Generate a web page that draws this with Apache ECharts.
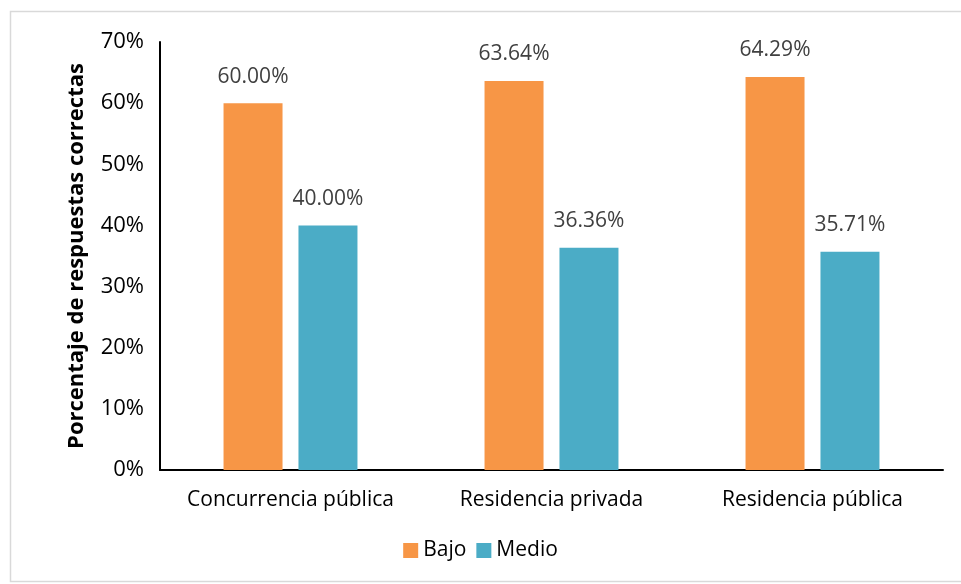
<!DOCTYPE html>
<html>
<head>
<meta charset="utf-8">
<script src="https://cdn.jsdelivr.net/npm/echarts@6/dist/echarts.min.js"></script>
<style>
  html, body { margin: 0; padding: 0; background: #fff; }
  #chart { width: 961px; height: 584px; }
</style>
</head>
<body>
<div id="chart"></div>
<script>
// Tipos de edificación
const categories = ['Concurrencia pública', 'Residencia privada', 'Residencia pública'];
// Porcentaje de respuestas correctas por nivel
const bajo = [60.00, 63.64, 64.29];
const medio = [40.00, 36.36, 35.71];
const yTicks = [0, 10, 20, 30, 40, 50, 60, 70];

const FONT = '"Open Sans", "DejaVu Sans", sans-serif';

const chart = echarts.init(document.getElementById('chart'), null, { renderer: 'canvas' });

const labelCfg = {
  show: true,
  position: 'top',
  distance: 16,
  color: '#404040',
  fontFamily: FONT,
  fontSize: 21,
  formatter: p => p.value.toFixed(2) + '%'
};

chart.setOption({
  animation: false,
  backgroundColor: '#ffffff',
  textStyle: { fontFamily: FONT },
  graphic: [{
    type: 'rect',
    shape: { x: 10.5, y: 11.5, width: 960, height: 570 },
    style: { fill: 'none', stroke: '#d9d9d9', lineWidth: 1.5 },
    silent: true
  }],
  grid: { left: 160, right: 18, top: 42, bottom: 114, containLabel: false },
  legend: {
    bottom: 18,
    left: 'center',
    itemWidth: 15,
    itemHeight: 15,
    itemGap: 10,
    icon: 'rect',
    textStyle: { color: '#000', fontSize: 21, fontFamily: FONT, padding: [0, 0, 0, 0] },
    data: ['Bajo', 'Medio']
  },
  xAxis: {
    type: 'category',
    data: categories,
    axisLine: { lineStyle: { color: '#000', width: 2 } },
    axisTick: { show: false },
    axisLabel: { color: '#000', fontSize: 21, fontFamily: FONT, margin: 20, interval: 0, hideOverlap: false }
  },
  yAxis: {
    type: 'value',
    min: yTicks[0],
    max: yTicks[yTicks.length - 1],
    interval: 10,
    name: 'Porcentaje de respuestas correctas',
    nameLocation: 'middle',
    nameGap: 72,
    nameRotate: 90,
    nameTextStyle: { color: '#000', fontSize: 22, fontWeight: 'bold', fontFamily: FONT },
    axisLine: { show: true, lineStyle: { color: '#000', width: 2 } },
    axisTick: { show: false },
    splitLine: { show: false },
    axisLabel: { color: '#000', fontSize: 22, fontFamily: FONT, margin: 16, formatter: v => v + '%' }
  },
  series: [
    {
      name: 'Bajo',
      type: 'bar',
      data: bajo,
      barWidth: 59,
      barGap: '27%',
      itemStyle: { color: '#F79646' },
      label: labelCfg
    },
    {
      name: 'Medio',
      type: 'bar',
      data: medio,
      barWidth: 59,
      itemStyle: { color: '#4BACC6' },
      label: labelCfg
    }
  ]
});
</script>
</body>
</html>
